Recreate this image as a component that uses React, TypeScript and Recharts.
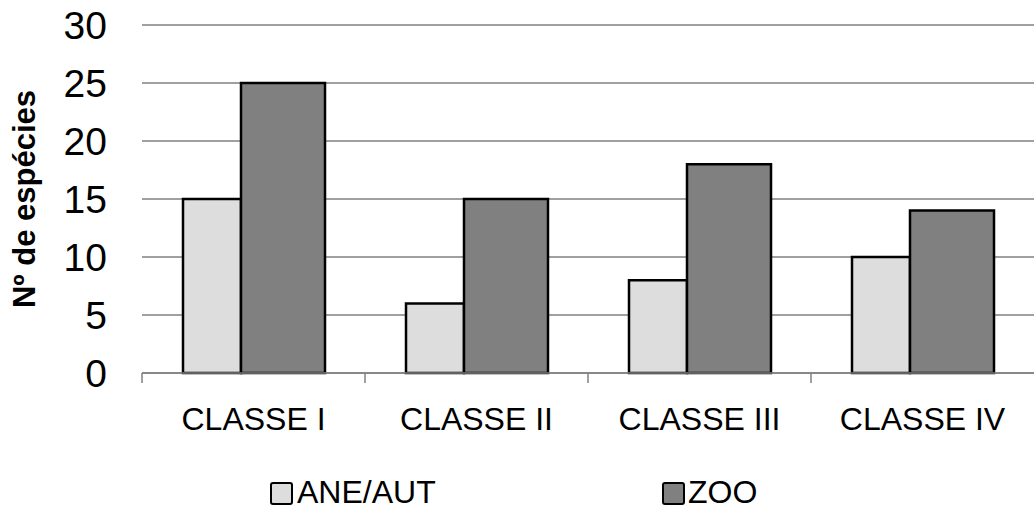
import React from "react";
import { BarChart, Bar, XAxis, YAxis, CartesianGrid, Legend } from "recharts";

const categories = ["CLASSE I", "CLASSE II", "CLASSE III", "CLASSE IV"];
const aneAut = [15, 6, 8, 10];
const zoo = [25, 15, 18, 14];
const yTicks = [0, 5, 10, 15, 20, 25, 30];
const seriesNames = ["ANE/AUT", "ZOO"];

const data = categories.map((c, i) => ({ name: c, ane: aneAut[i], zoo: zoo[i] }));

const W = 1034;
const H = 511;
const Y_AXIS_W = 142;
const FONT = "'Liberation Sans', Arial, sans-serif";
const HALF_BAND = (W - Y_AXIS_W) / categories.length / 2;

const XTick = (props: any) => {
  const { x, y, payload } = props;
  return (
    <g>
      <line x1={x - HALF_BAND} x2={x - HALF_BAND} y1={y} y2={y + 10} stroke="#808080" strokeWidth={1.5} />
      <text x={x} y={y + 57} textAnchor="middle" fontSize={32} fontFamily={FONT} fill="#000">
        {payload.value}
      </text>
    </g>
  );
};

const LegendContent = () => (
  <svg width={W} height={70} style={{ display: "block" }}>
    <rect x={271} y={42} width={21} height={21} rx={2} fill="#dddddd" stroke="#000" strokeWidth={2} />
    <text x={297} y={62} fontSize={32} fontFamily={FONT} fill="#000">{seriesNames[0]}</text>
    <rect x={663} y={42} width={21} height={21} rx={2} fill="#808080" stroke="#000" strokeWidth={2} />
    <text x={688} y={62} fontSize={32} fontFamily={FONT} fill="#000">{seriesNames[1]}</text>
  </svg>
);

export default function App() {
  return (
    <div style={{ position: "absolute", left: 0, top: 0, width: W, height: H, background: "#fff" }}>
      <BarChart
        width={W}
        height={H}
        data={data}
        margin={{ top: 25, right: 0, bottom: 0, left: 0 }}
        barGap={0}
      >
        <CartesianGrid horizontal vertical={false} stroke="#404040" strokeWidth={1} />
        <XAxis
          dataKey="name"
          height={68}
          tickSize={0}
          tickMargin={0}
          tickLine={false}
          axisLine={{ stroke: "#808080", strokeWidth: 1.5 }}
          tick={<XTick />}
          interval={0}
        />
        <YAxis
          width={Y_AXIS_W}
          domain={[0, 30]}
          ticks={yTicks}
          axisLine={false}
          tickLine={false}
          tickSize={0}
          tickMargin={35}
          tick={{ fontSize: 39, fill: "#000", fontFamily: FONT }}
          label={{
            value: "Nº de espécies",
            angle: -90,
            position: "insideLeft",
            offset: 24,
            style: { textAnchor: "middle", fontWeight: "bold", fontSize: 31, fill: "#000", fontFamily: FONT },
          }}
        />
        <Legend
          verticalAlign="bottom"
          height={70}
          content={<LegendContent />}
          wrapperStyle={{ left: 0, bottom: 0, width: W, height: 70 }}
        />
        <Bar dataKey="ane" name={seriesNames[0]} fill="#dddddd" stroke="#000" strokeWidth={2.5} barSize={58} isAnimationActive={false} />
        <Bar dataKey="zoo" name={seriesNames[1]} fill="#808080" stroke="#000" strokeWidth={2.5} barSize={84} isAnimationActive={false} />
      </BarChart>
    </div>
  );
}
